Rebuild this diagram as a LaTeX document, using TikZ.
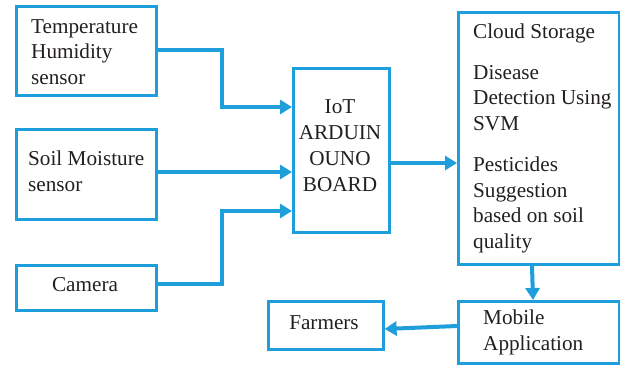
\documentclass[tikz,border=0pt]{standalone}
\usepackage{fontspec}
\setmainfont{Liberation Serif}
\usetikzlibrary{arrows.meta}
\definecolor{iotblue}{HTML}{1E9FDB}
\definecolor{txt}{HTML}{231F20}
\tikzset{
  box/.style={draw=iotblue, line width=2.6pt, inner sep=0pt, anchor=north west},
  lbl/.style={inner sep=0pt, text=txt, font=\fontsize{21.2pt}{25.5pt}\selectfont, align=left},
  clbl/.style={inner sep=0pt, text=txt, font=\fontsize{21.2pt}{26pt}\selectfont, align=center},
  flow/.style={draw=iotblue, line width=4pt, -{Triangle[length=12pt,width=14pt]}},
}
\begin{document}
\begin{tikzpicture}[x=1pt,y=-1pt]
\useasboundingbox (0,0) rectangle (620,364);
% boxes
\node[box, minimum width=140pt, minimum height=89pt] (temp) at (15,5) {};
\node[box, minimum width=140pt, minimum height=90pt] (soil) at (15,128) {};
\node[box, minimum width=140pt, minimum height=45pt] (cam) at (15,264) {};
\node[box, minimum width=96pt, minimum height=164pt] (iot) at (292,67) {};
\node[box, minimum width=161pt, minimum height=252pt] (cloud) at (457,11) {};
\node[box, minimum width=161pt, minimum height=62pt] (mob) at (457,300) {};
\node[box, minimum width=115pt, minimum height=48pt] (farm) at (267,300) {};
% texts
\node[lbl, anchor=north west] (t1) at (31,19) {Temperature\\Humidity\\sensor};
\node[lbl, anchor=north west] (t2) at (28,151) {Soil Moisture\\sensor};
\node[clbl, anchor=base] (t3) at (85,291) {Camera};
\node[clbl, anchor=north] (t4) at (340,99) {IoT\\ARDUIN\\OUNO\\BOARD};
\node[lbl, anchor=north west] (t5) at (473,24) {Cloud Storage\\[15pt]Disease\\Detection Using\\SVM\\[16pt]Pesticides\\Suggestion\\based on soil\\quality};
\node[lbl, anchor=north west] (t6) at (483,310) {Mobile\\Application};
\node[clbl, anchor=base] (t7) at (324,329) {Farmers};
% connectors
\coordinate (c1) at (iot.west |- 0,107);
\coordinate (c2) at (iot.west |- 0,211);
\draw[flow] (temp.east |- 0,50) -| (222,107) -- (c1);
\draw[flow] (soil.east |- 0,172) -- (iot.west |- 0,172);
\draw[flow] (cam.east |- 0,284) -| (222,211) -- (c2);
\draw[flow] (iot.east |- 0,163) -- (cloud.west |- 0,163);
\draw[flow] (cloud.south -| 532,0) -- (mob.north -| 533,0);
\draw[flow] (mob.west |- 0,326) -- (farm.east |- 0,329);
\end{tikzpicture}
\end{document}
